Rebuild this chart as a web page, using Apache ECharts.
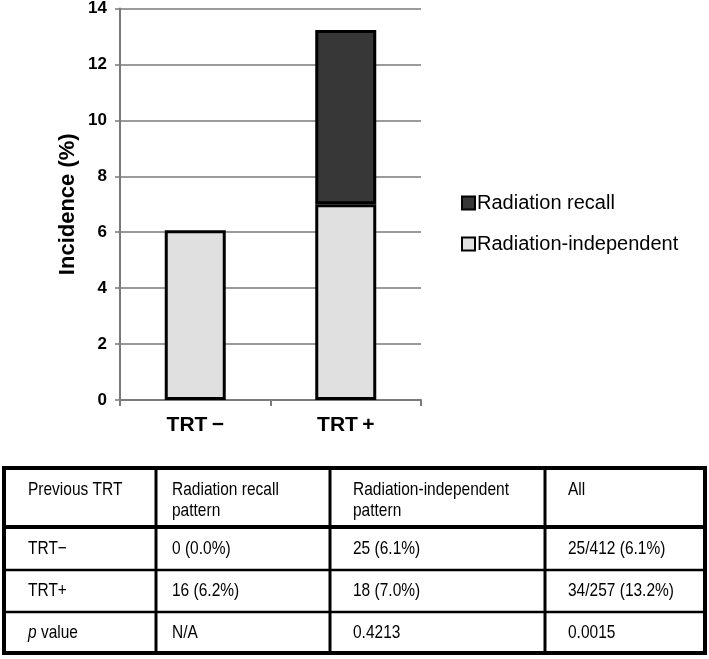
<!DOCTYPE html>
<html>
<head>
<meta charset="utf-8">
<script src="https://cdn.jsdelivr.net/npm/echarts@6/dist/echarts.min.js"></script>
<style>
html,body{margin:0;padding:0;background:#fff;}
#chart{width:709px;height:659px;}
</style>
</head>
<body>
<div id="chart"></div>
<script>
// ---- data ----
const categories = ['TRT\u2009\u2212', 'TRT\u2009+'];
const radiationIndependent = [6.07, 7.00];
const radiationRecall = [0, 6.23];
const yTicks = { min: 0, max: 14, interval: 2 };
const seriesNames = ['Radiation recall', 'Radiation-independent'];

const tableHeader = [['Previous TRT'], ['Radiation recall', 'pattern'], ['Radiation-independent', 'pattern'], ['All']];
const tableRowLabels = ['TRT\u2212', 'TRT+', '{i|p} value'];
const tableRecall = ['0 (0.0%)', '16 (6.2%)', 'N/A'];
const tableIndependent = ['25 (6.1%)', '18 (7.0%)', '0.4213'];
const tableAll = ['25/412 (6.1%)', '34/257 (13.2%)', '0.0015'];

// ---- table layout ----
const colEdges = [4, 156, 330, 545, 705];
const rowEdges = [468, 527, 570, 612, 653];
const textX = [28, 172, 353, 568];
const FONT = 'Liberation Sans, Arial, sans-serif';
const SY = 1.2;

const graphics = [];
tableHeader.forEach((lines, c) => {
  graphics.push({
    type: 'text', x: textX[c], y: 480, scaleY: SY,
    style: { text: lines.join('\n'), font: '15.5px ' + FONT, fill: '#000', lineHeight: 17 }
  });
});
const body = [tableRowLabels, tableRecall, tableIndependent, tableAll];
for (let r = 0; r < 3; r++) {
  for (let c = 0; c < 4; c++) {
    const yc = (rowEdges[r + 1] + rowEdges[r + 2]) / 2;
    graphics.push({
      type: 'text', x: textX[c], y: yc, scaleY: SY,
      style: {
        text: body[c][r], font: '15.5px ' + FONT, fill: '#000', verticalAlign: 'middle',
        rich: { i: { fontStyle: 'italic', fontSize: 15.5, fontFamily: FONT } }
      }
    });
  }
}
function line(x1, y1, x2, y2, w) {
  graphics.push({ type: 'line', shape: { x1, y1, x2, y2 }, style: { stroke: '#000', lineWidth: w } });
}
line(colEdges[1], rowEdges[0], colEdges[1], rowEdges[4], 3);
line(colEdges[2], rowEdges[0], colEdges[2], rowEdges[4], 3);
line(colEdges[3], rowEdges[0], colEdges[3], rowEdges[4], 3);
line(colEdges[0], rowEdges[1], colEdges[4], rowEdges[1], 4);
line(colEdges[0], rowEdges[2], colEdges[4], rowEdges[2], 2.5);
line(colEdges[0], rowEdges[3], colEdges[4], rowEdges[3], 2.5);
graphics.push({
  type: 'rect', shape: { x: colEdges[0], y: rowEdges[0], width: colEdges[4] - colEdges[0], height: rowEdges[4] - rowEdges[0] },
  style: { fill: 'none', stroke: '#000', lineWidth: 4 }
});

const chart = echarts.init(document.getElementById('chart'));
chart.setOption({
  animation: false,
  backgroundColor: '#fff',
  textStyle: { fontFamily: FONT },
  grid: { left: 120, right: 288, top: 8, bottom: 259 },
  legend: {
    orient: 'vertical', left: 456, top: 188,
    data: seriesNames,
    itemWidth: 13, itemHeight: 13, itemGap: 21,
    icon: 'rect',
    textStyle: { fontSize: 20, color: '#000', fontFamily: FONT, padding: [0, 0, 0, -3] }
  },
  xAxis: {
    type: 'category', data: categories,
    axisLine: { lineStyle: { color: '#7a7a7a', width: 2 } },
    axisTick: { show: true, length: 6, lineStyle: { color: '#7a7a7a', width: 2 } },
    axisLabel: { fontSize: 21, fontWeight: 'bold', color: '#000', margin: 15, fontFamily: FONT }
  },
  yAxis: {
    type: 'value', min: yTicks.min, max: yTicks.max, interval: yTicks.interval,
    name: 'Incidence (%)', nameLocation: 'middle', nameGap: 41,
    nameTextStyle: { fontSize: 22, fontWeight: 'bold', color: '#000', fontFamily: FONT },
    axisLine: { show: true, lineStyle: { color: '#7a7a7a', width: 2 } },
    axisTick: { show: true, length: 5, lineStyle: { color: '#7a7a7a', width: 1.5 } },
    axisLabel: { fontSize: 17, fontWeight: 'bold', color: '#000', margin: 13, fontFamily: FONT },
    splitLine: { show: true, lineStyle: { color: '#7a7a7a', width: 1.5 } }
  },
  series: [
    {
      name: 'Radiation-independent', type: 'bar', stack: 'total', data: radiationIndependent,
      barWidth: 61,
      itemStyle: { color: '#e0e0e0', borderColor: '#000', borderWidth: 3 }
    },
    {
      name: 'Radiation recall', type: 'bar', stack: 'total',
      data: radiationRecall.map(v => (v === 0 ? '-' : v)),
      barWidth: 61,
      itemStyle: { color: '#373737', borderColor: '#000', borderWidth: 3 }
    }
  ],
  graphic: graphics
});
</script>
</body>
</html>
